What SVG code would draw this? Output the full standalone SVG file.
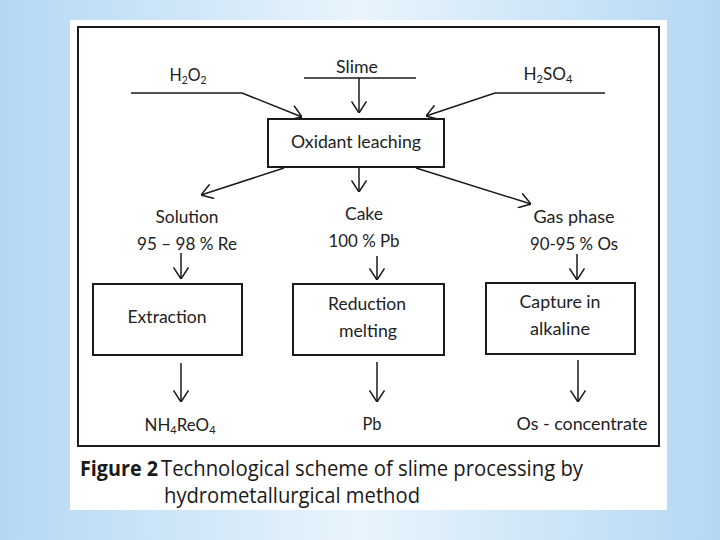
<svg xmlns="http://www.w3.org/2000/svg" width="720" height="540" viewBox="0 0 720 540">
<defs>
<linearGradient id="bg" x1="0" y1="0" x2="1" y2="0">
<stop offset="0" stop-color="#b4d8f4"/>
<stop offset="0.5" stop-color="#e9f4fc"/>
<stop offset="1" stop-color="#b4d8f4"/>
</linearGradient>
<marker id="ah" viewBox="0 0 12 16" refX="12" refY="8" markerWidth="12" markerHeight="16" markerUnits="userSpaceOnUse" orient="auto">
<path d="M0.5,0.5 L12,8 L0.5,15.5" fill="none" stroke="#1a1a1a" stroke-width="1.5"/>
</marker>
<style>
.t{font-family:Lato,"Open Sans","Liberation Sans",sans-serif;font-size:17px;fill:#222;text-anchor:middle}
.big{font-size:18px}
.box{fill:#fff;stroke:#1a1a1a;stroke-width:2}
.c{fill:none;stroke:#1a1a1a;stroke-width:1.5}
.cap{font-family:"Open Sans","Liberation Sans",sans-serif;font-size:21px;fill:#1a1a1a}
</style>
</defs>
<rect width="720" height="540" fill="url(#bg)"/>
<rect x="70" y="20" width="597" height="490" fill="#fff"/>
<rect x="78" y="27" width="581" height="419" fill="none" stroke="#1a1a1a" stroke-width="2"/>

<g id="connectors">
<path class="c" d="M131,93 L242,93 L302,117" marker-end="url(#ah)"/>
<path class="c" d="M304,78 L416,78"/>
<path class="c" d="M359,78 L359,113" marker-end="url(#ah)"/>
<path class="c" d="M605,93 L495,93 L426,116" marker-end="url(#ah)"/>
<path class="c" d="M284,168 L201,195" marker-end="url(#ah)"/>
<path class="c" d="M359,168 L359,192" marker-end="url(#ah)"/>
<path class="c" d="M416,168 L531,204" marker-end="url(#ah)"/>
<path class="c" d="M181,253 L181,279" marker-end="url(#ah)"/>
<path class="c" d="M377,256 L377,280" marker-end="url(#ah)"/>
<path class="c" d="M577,254 L577,280" marker-end="url(#ah)"/>
<path class="c" d="M181,363 L181,402" marker-end="url(#ah)"/>
<path class="c" d="M377,362 L377,402" marker-end="url(#ah)"/>
<path class="c" d="M578,360 L578,402" marker-end="url(#ah)"/>
</g>

<g id="h2o2"><text class="t" x="188" y="81" textLength="37" lengthAdjust="spacingAndGlyphs">H<tspan font-size="11" dy="3">2</tspan><tspan dy="-3">O</tspan><tspan font-size="11" dy="3">2</tspan></text></g>
<g id="slime"><text class="t" x="357" y="73" textLength="42" lengthAdjust="spacingAndGlyphs">Slime</text></g>
<g id="h2so4"><text class="t" x="548" y="80" textLength="49" lengthAdjust="spacingAndGlyphs">H<tspan font-size="11" dy="3">2</tspan><tspan dy="-3">SO</tspan><tspan font-size="11" dy="3">4</tspan></text></g>

<g id="oxidant">
<rect class="box" x="268" y="119" width="176" height="48"/>
<text class="t big" x="356" y="148" textLength="130" lengthAdjust="spacingAndGlyphs">Oxidant leaching</text>
</g>

<g id="solution">
<text class="t" x="187" y="223" textLength="63" lengthAdjust="spacingAndGlyphs">Solution</text>
<text class="t" x="187" y="250" textLength="100" lengthAdjust="spacingAndGlyphs">95 – 98 % Re</text>
</g>
<g id="cake">
<text class="t" x="364" y="220" textLength="38" lengthAdjust="spacingAndGlyphs">Cake</text>
<text class="t" x="364" y="247" textLength="71" lengthAdjust="spacingAndGlyphs">100 % Pb</text>
</g>
<g id="gas">
<text class="t" x="574" y="223" textLength="81" lengthAdjust="spacingAndGlyphs">Gas phase</text>
<text class="t" x="574" y="250" textLength="88" lengthAdjust="spacingAndGlyphs">90-95 % Os</text>
</g>

<g id="extraction">
<rect class="box" x="93" y="284" width="149" height="71"/>
<text class="t" x="167" y="323" textLength="79" lengthAdjust="spacingAndGlyphs">Extraction</text>
</g>
<g id="reduction">
<rect class="box" x="293" y="284" width="151" height="71"/>
<text class="t" x="367" y="310" textLength="78" lengthAdjust="spacingAndGlyphs">Reduction</text>
<text class="t" x="368" y="337" textLength="58" lengthAdjust="spacingAndGlyphs">melting</text>
</g>
<g id="capture">
<rect class="box" x="486" y="283" width="149" height="71"/>
<text class="t" x="560" y="308" textLength="81" lengthAdjust="spacingAndGlyphs">Capture in</text>
<text class="t" x="560" y="335" textLength="60" lengthAdjust="spacingAndGlyphs">alkaline</text>
</g>

<g id="nh4reo4"><text class="t" x="180" y="431" textLength="71" lengthAdjust="spacingAndGlyphs">NH<tspan font-size="11" dy="3">4</tspan><tspan dy="-3">ReO</tspan><tspan font-size="11" dy="3">4</tspan></text></g>
<g id="pb"><text class="t" x="372" y="430" textLength="19" lengthAdjust="spacingAndGlyphs">Pb</text></g>
<g id="os"><text class="t" x="582" y="430" textLength="131" lengthAdjust="spacingAndGlyphs">Os - concentrate</text></g>

<g id="caption">
<text class="cap" x="80" y="476" font-weight="bold" textLength="78" lengthAdjust="spacingAndGlyphs">Figure 2</text>
<text class="cap" x="161" y="476" textLength="422" lengthAdjust="spacingAndGlyphs">Technological scheme of slime processing by</text>
<text class="cap" x="164" y="503" textLength="256" lengthAdjust="spacingAndGlyphs">hydrometallurgical method</text>
</g>
</svg>
